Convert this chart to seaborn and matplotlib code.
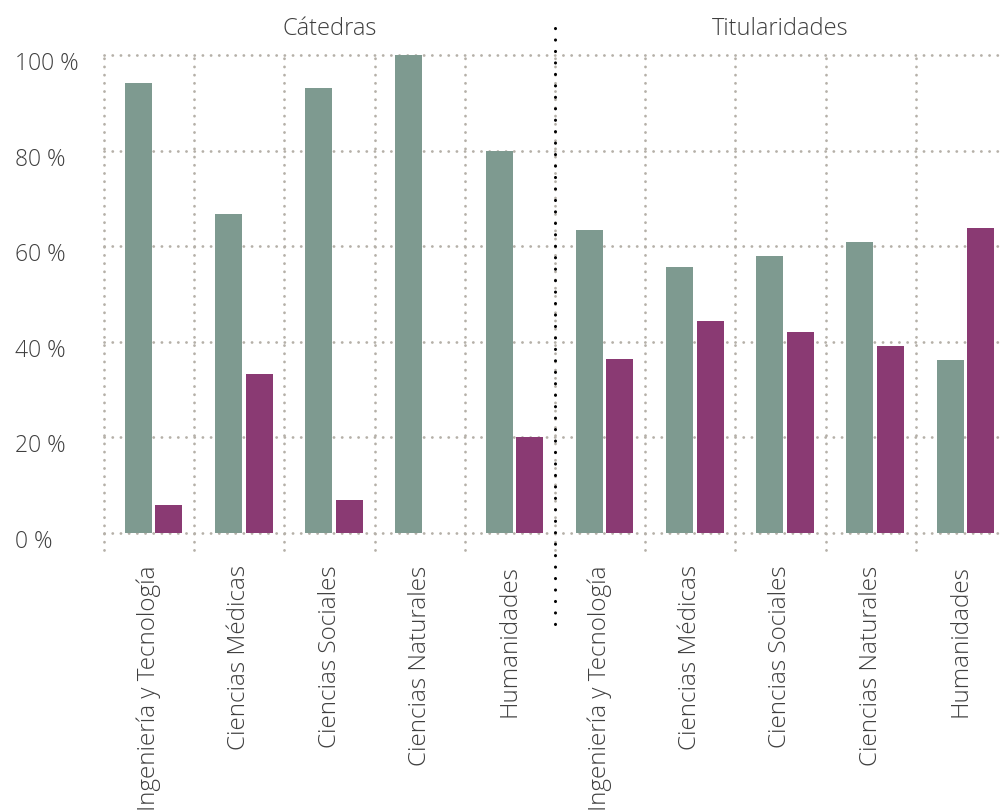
import numpy as np
import pandas as pd
import seaborn as sns
import matplotlib.pyplot as plt
from matplotlib.transforms import ScaledTranslation

# Data
groups = ['Cátedras', 'Titularidades']
areas = ['Ingeniería y Tecnología', 'Ciencias Médicas', 'Ciencias Sociales',
         'Ciencias Naturales', 'Humanidades']
catedras_a = [94.1, 66.7, 93.1, 100.0, 80.0]
catedras_b = [5.9, 33.3, 6.9, 0.0, 20.0]
titular_a = [63.5, 55.6, 58.0, 60.8, 36.2]
titular_b = [36.5, 44.4, 42.0, 39.2, 63.8]
series = ['A', 'B']
yticks = [0, 20, 40, 60, 80, 100]

green = '#7E9A90'
purple = '#8A3A73'
grid_col = '#B5B0A8'
text_col = '#3F3F3F'

keys = [f'{g}|{a}' for g in groups for a in areas]
vals_a = catedras_a + titular_a
vals_b = catedras_b + titular_b
df = pd.DataFrame({
    'key': keys * 2,
    'serie': [series[0]] * len(keys) + [series[1]] * len(keys),
    'valor': vals_a + vals_b,
})

sns.set_theme(style='white')
plt.rcParams['font.family'] = ['Open Sans', 'DejaVu Sans']

fig = plt.figure(figsize=(10, 8.1), dpi=100)
ax = fig.add_axes([0.104, 0.321, 0.902, 0.611])

sns.barplot(data=df, x='key', y='valor', hue='serie', order=keys,
            palette=[green, purple], width=0.68, gap=0.12, saturation=1,
            linewidth=0, legend=False, ax=ax)

n = len(keys)
ax.set_xlim(-0.55, n - 0.55)
ax.set_ylim(-3.56, 100)

# dotted grid
dots = dict(color=grid_col, lw=2.0, linestyle=(0, (0.05, 2.9)),
            dash_capstyle='round', zorder=0)
for y in yticks:
    ax.plot([-0.55, n - 0.55], [y, y], clip_on=False, **dots)
for k in range(n + 1):
    ax.plot([k - 0.55, k - 0.55], [-3.56, 100], clip_on=False, **dots)

# separator between the two groups
ax.plot([4.45, 4.45], [105.6, -20.3], color='black', lw=2.2,
        linestyle=(0, (0.05, 3.7)), dash_capstyle='round',
        clip_on=False, zorder=5)

for s in ax.spines.values():
    s.set_visible(False)

ax.set_yticks(yticks)
ax.set_yticklabels([f'{v} %' for v in yticks], fontsize=16.5,
                   color=text_col, fontweight='light')
ax.tick_params(axis='y', length=0, pad=64)
shift = ScaledTranslation(0, -0.06, fig.dpi_scale_trans)
for lab in ax.get_yticklabels():
    lab.set_horizontalalignment('left')
    lab.set_transform(lab.get_transform() + shift)

ax.set_xticks(np.arange(n) - 0.05)
ax.set_xticklabels(areas * 2, rotation=90, fontsize=17.5, color=text_col,
                   fontweight='light')
ax.tick_params(axis='x', length=0, pad=11)

ax.set_xlabel('')
ax.set_ylabel('')

ax.text(2.0 - 0.05, 105.5, groups[0], ha='center', va='center',
        fontsize=17, color=text_col, fontweight='light')
ax.text(7.0 - 0.05, 105.5, groups[1], ha='center', va='center',
        fontsize=17, color=text_col, fontweight='light')

fig.savefig('out.png', dpi=100)
